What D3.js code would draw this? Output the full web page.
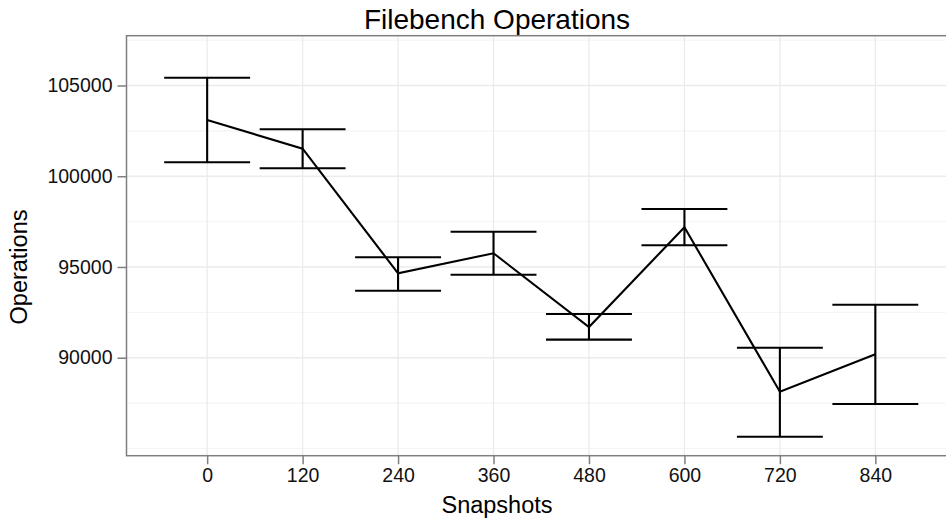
<html>
<head>
	<meta charset="utf-8">
	<title>Filebench Operations</title>
	<script src="https://d3js.org/d3.v7.min.js"></script>
	<style>
	body { margin: 0; background: #fff; }
	text { font-family: "Liberation Sans", Arial, sans-serif; }
	</style>
</head>
<body>
	<div id="chart"></div>

	<script>
		// values
		var snapshots = [0, 120, 240, 360, 480, 600, 720, 840];
		var meanOps   = [103100, 101520, 94650, 95755, 91690, 97190, 88130, 90190];
		var lowOps    = [100770, 100440, 93690, 94575, 91000, 96195, 85650, 87450];
		var highOps   = [105430, 102590, 95535, 96945, 92410, 98195, 90550, 92920];
		var yTicks    = [90000, 95000, 100000, 105000];
		var yMinor    = [85000, 87500, 92500, 97500, 102500, 107500];

		var data = snapshots.map(function(s, i) {
			return {x: s, y: meanOps[i], lo: lowOps[i], hi: highOps[i]};
		});

		var svg = d3.select("#chart")
			.append("svg")
			.attr("width", 946)
			.attr("height", 521);

		// panel box (right side runs past the picture edge, as in the original)
		var pLeft = 126.5, pRight = 956, pTop = 35.7, pBottom = 455.7;
		var capHalf = 54;

		// ggplot-like expanded scales
		var x = d3.scaleLinear().domain([-101.4, 941.4]).range([pLeft, pRight]);
		var y = d3.scaleLinear().domain([84602, 107743]).range([pBottom, pTop]);

		var panel = svg.append("g");

		// minor grid
		panel.selectAll(".minor")
			.data(yMinor)
			.enter().append("line")
			.attr("x1", pLeft).attr("x2", pRight)
			.attr("y1", function(d) { return y(d); })
			.attr("y2", function(d) { return y(d); })
			.attr("stroke", "#f5f5f5")
			.attr("stroke-width", 1.1);

		// major grid
		panel.selectAll(".hmajor")
			.data(yTicks)
			.enter().append("line")
			.attr("x1", pLeft).attr("x2", pRight)
			.attr("y1", function(d) { return y(d); })
			.attr("y2", function(d) { return y(d); })
			.attr("stroke", "#ebebeb")
			.attr("stroke-width", 1.3);

		panel.selectAll(".vmajor")
			.data(snapshots)
			.enter().append("line")
			.attr("y1", pTop).attr("y2", pBottom)
			.attr("x1", function(d) { return x(d); })
			.attr("x2", function(d) { return x(d); })
			.attr("stroke", "#ebebeb")
			.attr("stroke-width", 1.3);

		// error bars
		var bars = panel.selectAll(".err")
			.data(data)
			.enter().append("g")
			.attr("stroke", "#000")
			.attr("stroke-width", 2.1);

		bars.append("line")
			.attr("x1", function(d) { return x(d.x); })
			.attr("x2", function(d) { return x(d.x); })
			.attr("y1", function(d) { return y(d.lo); })
			.attr("y2", function(d) { return y(d.hi); });
		bars.append("line")
			.attr("x1", function(d) { return x(d.x - capHalf); })
			.attr("x2", function(d) { return x(d.x + capHalf); })
			.attr("y1", function(d) { return y(d.lo); })
			.attr("y2", function(d) { return y(d.lo); });
		bars.append("line")
			.attr("x1", function(d) { return x(d.x - capHalf); })
			.attr("x2", function(d) { return x(d.x + capHalf); })
			.attr("y1", function(d) { return y(d.hi); })
			.attr("y2", function(d) { return y(d.hi); });

		// mean line
		var line = d3.line()
			.x(function(d) { return x(d.x); })
			.y(function(d) { return y(d.y); });
		panel.append("path")
			.datum(data)
			.attr("d", line)
			.attr("fill", "none")
			.attr("stroke", "#000")
			.attr("stroke-width", 2.1);

		// panel border
		panel.append("rect")
			.attr("x", pLeft).attr("y", pTop)
			.attr("width", pRight - pLeft).attr("height", pBottom - pTop)
			.attr("fill", "none")
			.attr("stroke", "#7f7f7f")
			.attr("stroke-width", 1.5);

		// axes
		var xAxis = svg.append("g")
			.attr("transform", "translate(0," + pBottom + ")")
			.call(d3.axisBottom(x).tickValues(snapshots).tickSize(8.5).tickPadding(4).tickSizeOuter(0));
		var yAxis = svg.append("g")
			.attr("transform", "translate(" + pLeft + ",0)")
			.call(d3.axisLeft(y).tickValues(yTicks).tickFormat(d3.format("d")).tickSize(9).tickPadding(5).tickSizeOuter(0));

		[xAxis, yAxis].forEach(function(a) {
			a.select(".domain").remove();
			a.selectAll(".tick line").attr("stroke", "#7f7f7f").attr("stroke-width", 1.5);
			a.selectAll(".tick text")
				.attr("fill", "#111")
				.style("font-size", "19.5px")
				.style("font-family", "'Liberation Sans', Arial, sans-serif");
		});

		// titles
		svg.append("text")
			.attr("x", 497).attr("y", 28.5)
			.attr("text-anchor", "middle")
			.style("font-size", "28px")
			.text("Filebench Operations");

		svg.append("text")
			.attr("x", 497).attr("y", 512.5)
			.attr("text-anchor", "middle")
			.style("font-size", "23.5px")
			.text("Snapshots");

		svg.append("text")
			.attr("transform", "translate(27,267) rotate(-90)")
			.attr("text-anchor", "middle")
			.style("font-size", "23.5px")
			.text("Operations");
	</script>
</body>
</html>
